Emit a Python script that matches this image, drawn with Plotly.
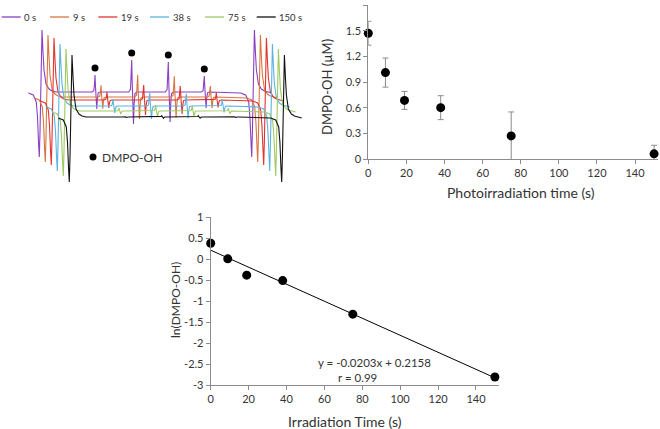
import plotly.graph_objects as go

# ---------------- data ----------------
TIMES = [0, 9, 19, 38, 75, 150]
TIME_LABELS = ["0 s", "9 s", "19 s", "38 s", "75 s", "150 s"]
CONC = [1.47, 1.01, 0.685, 0.60, 0.27, 0.06]          # DMPO-OH (uM)
CONC_ERR = [0.14, 0.17, 0.105, 0.14, 0.28, 0.10]
LN_CONC = [0.38, 0.01, -0.38, -0.51, -1.31, -2.81]    # ln(DMPO-OH)
FIT_SLOPE = -0.0203
FIT_INTERCEPT = 0.2158

SPEC_SHIFT = [0, 6, 12, 18, 24, 30]                  # field shift of each trace
SPEC_OFFSET = [92, 97, 100, 106, 111, 117]           # stacked baseline of each trace
MN_LEFT, MN_RIGHT = 39.3, 251.7                      # Mn marker line positions (0 s)
MN_DX = [-11, -6, -3, -1.8, -0.8, 0, 0.7, 1.7, 2.7, 3.7, 4.7, 6.7, 9.7, 12.7, 16.7, 20]
MN_DY = [1, 3, 10, 25, 50, 65, 40, -20, -62, -40, -22, -8, -3, -1, 0, 1]
Q_POS = [95, 131.7, 168.3, 204.3]                    # DMPO-OH quartet positions (0 s)
Q_AMP = [17, 32, 30, 16]                             # quartet amplitudes (0 s)
Q_DX = [-3, -1.2, -0.5, 0, 0.5, 1.2, 1.8, 2.4, 3.2, 5]
Q_DY = [0, -0.08, -0.45, -1.0, -0.3, 0.6, 1.0, 0.4, 0.05, 0]

SPEC_COLORS = ["#8a3fc4", "#d9753d", "#e0342c", "#5ab3e3", "#9dcb60", "#111111"]

FONT = "Lato"
GRAY = "#8c8c8c"
TXT = "#333333"

fig = go.Figure()

# ---------------- panel 1 : spectra ----------------
for i in range(len(TIMES)):
    s, b = SPEC_SHIFT[i], SPEC_OFFSET[i]
    xs, ys = [], []
    for dx, dy in zip(MN_DX[:-1], MN_DY[:-1]):
        xs.append(MN_LEFT + s + dx); ys.append(b + dy)
    for p, a in zip(Q_POS, Q_AMP):
        amp = a * CONC[i] / CONC[0]
        for dx, dy in zip(Q_DX, Q_DY):
            xs.append(p + s + dx); ys.append(b + dy * amp)
    for dx, dy in zip(MN_DX, MN_DY):
        xs.append(MN_RIGHT + s + dx); ys.append(b + dy)
    fig.add_trace(go.Scatter(x=xs, y=ys, mode="lines",
                             line=dict(color=SPEC_COLORS[i], width=1.1),
                             xaxis="x", yaxis="y", hoverinfo="skip"))

# DMPO-OH markers above quartet lines
fig.add_trace(go.Scatter(x=Q_POS, y=[SPEC_OFFSET[0] - a - 7 for a in Q_AMP],
                         mode="markers", marker=dict(color="black", size=7),
                         xaxis="x", yaxis="y"))
fig.add_trace(go.Scatter(x=[93], y=[157], mode="markers",
                         marker=dict(color="black", size=7), xaxis="x", yaxis="y"))

annotations = [dict(x=100, y=157, xref="x", yref="y", text="DMPO-OH", showarrow=False,
                    xanchor="left", yanchor="middle", font=dict(size=12, color=TXT, family=FONT))]
shapes = []
leg_x = [1.7, 50, 98.3, 150, 205, 256.7]
for i, lab in enumerate(TIME_LABELS):
    shapes.append(dict(type="line", xref="x", yref="y", x0=leg_x[i], x1=leg_x[i] + 19,
                       y0=17, y1=17, line=dict(color=SPEC_COLORS[i], width=1.3)))
    annotations.append(dict(x=leg_x[i] + 20.5, y=17, xref="x", yref="y", text=lab,
                            showarrow=False, xanchor="left", yanchor="middle",
                            font=dict(size=9.5, color=TXT, family=FONT)))

# ---------------- panel 2 : concentration ----------------
fig.add_trace(go.Scatter(x=TIMES, y=CONC, mode="markers",
                         marker=dict(color="black", size=9),
                         error_y=dict(type="data", array=CONC_ERR, color=GRAY,
                                      thickness=1, width=3),
                         xaxis="x2", yaxis="y2", cliponaxis=False))

# ---------------- panel 3 : ln plot ----------------
fit_x = [TIMES[0], TIMES[-1]]
fit_y = [FIT_SLOPE * t + FIT_INTERCEPT for t in fit_x]
fig.add_trace(go.Scatter(x=fit_x, y=fit_y, mode="lines", line=dict(color="black", width=1),
                         xaxis="x3", yaxis="y3"))
fig.add_trace(go.Scatter(x=TIMES, y=LN_CONC, mode="markers",
                         marker=dict(color="black", size=9), xaxis="x3", yaxis="y3",
                         cliponaxis=False))

ctr = dict(showarrow=False, xanchor="center", yanchor="middle")
annotations += [
    dict(x=86.2, y=-2.47, xref="x3", yref="y3", text="y = -0.0203x + 0.2158",
         font=dict(size=11.5, color=TXT, family=FONT), **ctr),
    dict(x=77.5, y=-2.81, xref="x3", yref="y3", text="r = 0.99",
         font=dict(size=11.5, color=TXT, family=FONT), **ctr),
    dict(x=327/660, y=1-87/429, xref="paper", yref="paper", text="DMPO-OH (µM)", textangle=-90,
         font=dict(size=13, color=TXT, family=FONT), **ctr),
    dict(x=520.8/660, y=1-192.3/429, xref="paper", yref="paper", text="Photoirradiation time (s)",
         font=dict(size=14, color=TXT, family=FONT), **ctr),
    dict(x=175/660, y=1-300/429, xref="paper", yref="paper", text="ln(DMPO-OH)", textangle=-90,
         font=dict(size=12, color=TXT, family=FONT), **ctr),
    dict(x=345/660, y=1-421/429, xref="paper", yref="paper", text="Irradiation Time (s)",
         font=dict(size=14, color=TXT, family=FONT), **ctr),
]

X_TICKS = [0, 20, 40, 60, 80, 100, 120, 140]
Y2_TICKS = [0, 0.3, 0.6, 0.9, 1.2, 1.5, 1.8]
Y2_LABELS = ["0", "0.3", "0.6", "0.9", "1.2", "1.5", "1.8"]
Y3_TICKS = [1, 0.5, 0, -0.5, -1, -1.5, -2, -2.5, -3]
Y3_LABELS = ["1", "0.5", "0", "-0.5", "-1", "-1.5", "-2", "-2.5", "-3"]

ax_common = dict(showline=True, linecolor=GRAY, linewidth=1, ticks="outside", ticklen=4,
                 tickcolor=GRAY, showgrid=False, zeroline=False, automargin=False,
                 tickfont=dict(size=11, color=TXT, family=FONT))

fig.update_layout(
    template="none",
    width=660, height=429, margin=dict(l=0, r=0, t=0, b=0, pad=0), autosize=False,
    paper_bgcolor="white", plot_bgcolor="rgba(0,0,0,0)", showlegend=False,
    xaxis=dict(domain=[0, 310/660], range=[0, 310], visible=False, fixedrange=True,
               automargin=False),
    yaxis=dict(domain=[229/429, 1], range=[200, 0], visible=False, fixedrange=True,
               automargin=False),
    xaxis2=dict(domain=[368.3/660, 657.9/660], range=[0, 152], tickvals=X_TICKS,
                anchor="y2", **ax_common),
    yaxis2=dict(domain=[(429-159)/429, (429-5)/429], range=[0, 1.8], tickvals=Y2_TICKS,
                ticktext=Y2_LABELS, anchor="x2", **ax_common),
    xaxis3=dict(domain=[210.7/660, 498.7/660], range=[0, 152], tickvals=X_TICKS,
                anchor="y3", **ax_common),
    yaxis3=dict(domain=[(429-385)/429, (429-217.3)/429], range=[-3, 1], tickvals=Y3_TICKS,
                ticktext=Y3_LABELS, anchor="x3", **ax_common),
    annotations=annotations, shapes=shapes,
)

fig.write_html("out.html", config={"displayModeBar": False},
               post_script="document.body.style.margin='0';")
